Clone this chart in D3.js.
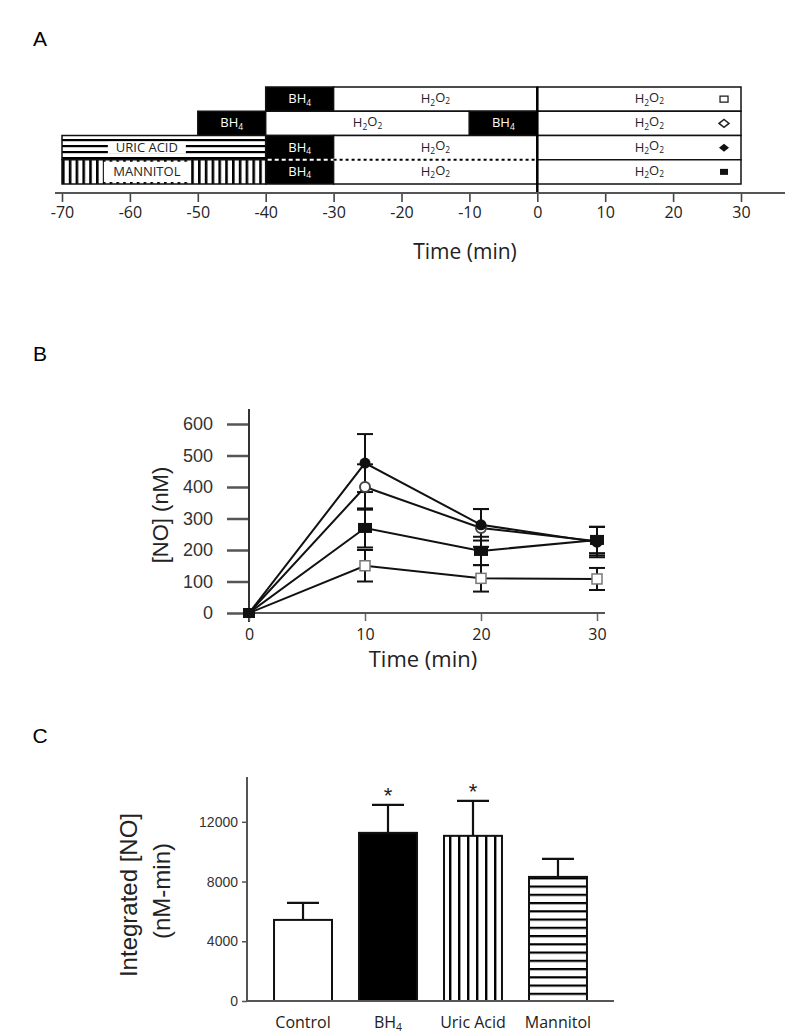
<!DOCTYPE html>
<html><head><meta charset="utf-8">
<script src="https://cdn.jsdelivr.net/npm/d3@7"></script>
<style>body{margin:0;background:#fff}svg{display:block}</style>
</head><body>
<svg id="c" width="800" height="1036"></svg>
<script>
// ---------- DATA ----------
// Panel A protocol: rows of [start, end, label, fill]
const protocolRows = [
  [[-40,-30,"BH4","black"],[-30,0,"H2O2","white"],[0,30,"H2O2","white"]],
  [[-50,-40,"BH4","black"],[-40,-10,"H2O2","white"],[-10,0,"BH4","black"],[0,30,"H2O2","white"]],
  [[-70,-40,"URIC ACID","hstripe"],[-40,-30,"BH4","black"],[-30,0,"H2O2","white"],[0,30,"H2O2","white"]],
  [[-70,-40,"MANNITOL","vstripe"],[-40,-30,"BH4","black"],[-30,0,"H2O2","white"],[0,30,"H2O2","white"]]
];
const protocolMarkers = ["square-open","diamond-open","diamond-filled","rect-filled"];
const timeTicksA = [-70,-60,-50,-40,-30,-20,-10,0,10,20,30];

// Panel B time course
const timesB = [0,10,20,30];
const seriesNames = ["Control","BH4","Uric Acid","Mannitol"];
const controlNO = [0,150,110,108];
const bh4NO = [0,400,270,228];
const uricNO = [0,476,280,225];
const mannitolNO = [0,270,197,232];
const controlErr = [0,50,42,35];
const bh4Err = [0,72,60,45];
const uricErr = [0,92,50,48];
const mannitolErr = [0,62,45,42];
const yTicksB = [0,100,200,300,400,500,600];
const xTicksB = [0,10,20,30];

// Panel C integrated NO
const categoriesC = ["Control","BH4","Uric Acid","Mannitol"];
const integratedNO = [5430,11260,11060,8310];
const integratedErr = [1140,1880,2340,1210];
const significant = [false,true,true,false];
const yTicksC = [0,4000,8000,12000];

// ---------- DRAW ----------
const svg = d3.select("#c");
const FONT = "'Liberation Sans', Arial, sans-serif";
const FONT2 = "'Open Sans', 'Liberation Sans', sans-serif";
const plain = d => String(d);

const defs = svg.append("defs");
const hp = defs.append("pattern").attr("id","hstripeA").attr("patternUnits","userSpaceOnUse").attr("width",8).attr("height",6).attr("y",1);
hp.append("rect").attr("width",8).attr("height",6).attr("fill","white");
hp.append("rect").attr("y",0).attr("width",8).attr("height",2.2).attr("fill","black");
const vp = defs.append("pattern").attr("id","vstripeA").attr("patternUnits","userSpaceOnUse").attr("width",6.8).attr("height",8).attr("x",62);
vp.append("rect").attr("width",6.8).attr("height",8).attr("fill","white");
vp.append("rect").attr("x",0).attr("width",2.6).attr("height",8).attr("fill","black");

function subText(sel, label){
  if(label==="BH4"){ sel.append("tspan").text("BH"); sel.append("tspan").attr("font-size","0.65em").attr("dy","0.3em").text("4"); }
  else if(label==="H2O2"){
    sel.append("tspan").text("H"); sel.append("tspan").attr("font-size","0.65em").attr("dy","0.3em").text("2");
    sel.append("tspan").attr("dy","-0.3em").text("O"); sel.append("tspan").attr("font-size","0.65em").attr("dy","0.3em").text("2");
  } else sel.text(label);
}

// Panel labels
[["A",40,40],["B",40,355],["C",40,737]].forEach(([t,x,y])=>{
  svg.append("text").attr("x",x).attr("y",y).attr("font-family",FONT).attr("font-size",21).text(t).attr("text-anchor","middle").attr("dominant-baseline","middle");
});

// ----- Panel A -----
const xA = d3.scaleLinear().domain([-70,30]).range([62,741]);
const rowA = d3.scaleBand().domain(d3.range(protocolRows.length)).range([87,184]);
const gA = svg.append("g");
protocolRows.forEach((row,i)=>{
  const y0 = rowA(i), h = rowA.bandwidth();
  row.forEach(([s,e,lab,fill])=>{
    const f = fill==="hstripe" ? "url(#hstripeA)" : fill==="vstripe" ? "url(#vstripeA)" : fill;
    gA.append("rect").attr("x",xA(s)).attr("y",y0).attr("width",xA(e)-xA(s)).attr("height",h).attr("fill",f).attr("stroke","#111").attr("stroke-width",1.5);
  });
});
protocolRows.forEach((row,i)=>{
  const y0 = rowA(i), h = rowA.bandwidth();
  row.forEach(([s,e,lab,fill])=>{
    let cx;
    if(fill==="hstripe"||fill==="vstripe"){
      cx = (xA(s)+xA(e))/2 - 17;
      const w = fill==="hstripe"?78:86;
      const bh = fill==="hstripe"?12:h-4;
      gA.append("rect").attr("x",cx-w/2).attr("y",y0+h/2-bh/2).attr("width",w).attr("height",bh).attr("fill","white");
      gA.append("text").attr("x",cx).attr("y",y0+h/2+1).attr("text-anchor","middle").attr("dominant-baseline","middle")
        .attr("font-family",FONT2).attr("font-size",13).attr("fill","#222").text(lab);
      return;
    }
    if(s===0) cx = xA(16.5);
    else cx = (xA(s)+xA(e))/2;
    const t = gA.append("text").attr("x",cx).attr("y",y0+h/2+4).attr("text-anchor","middle")
      .attr("font-family",FONT2).attr("font-size",13).attr("fill",fill==="black"?"white":"#222");
    subText(t,lab);
  });
});
const ySep = rowA(3);
gA.append("line").attr("x1",xA(-40)).attr("x2",xA(-30)).attr("y1",ySep).attr("y2",ySep).attr("stroke","black").attr("stroke-width",3);
gA.append("line").attr("x1",xA(-40)+2).attr("x2",xA(-30)).attr("y1",ySep).attr("y2",ySep).attr("stroke","white").attr("stroke-width",2).attr("stroke-dasharray","4,3");
gA.append("line").attr("x1",xA(-30)).attr("x2",xA(0)).attr("y1",ySep).attr("y2",ySep).attr("stroke","white").attr("stroke-width",3);
gA.append("line").attr("x1",xA(-30)).attr("x2",xA(0)).attr("y1",ySep).attr("y2",ySep).attr("stroke","black").attr("stroke-width",2.2).attr("stroke-dasharray","3,3");
gA.append("line").attr("x1",xA(0)).attr("x2",xA(0)).attr("y1",rowA(0)).attr("y2",193).attr("stroke","black").attr("stroke-width",2.5);
protocolMarkers.forEach((m,i)=>{
  const cy = rowA(i)+rowA.bandwidth()/2, cx = xA(27.5);
  if(m==="square-open") gA.append("rect").attr("x",cx-4).attr("y",cy-3).attr("width",8).attr("height",6).attr("fill","white").attr("stroke","#222").attr("stroke-width",1.3);
  else if(m==="diamond-open") gA.append("path").attr("d",`M${cx-5},${cy}L${cx},${cy-4}L${cx+5},${cy}L${cx},${cy+4}Z`).attr("fill","white").attr("stroke","#222").attr("stroke-width",1.5);
  else if(m==="diamond-filled") gA.append("path").attr("d",`M${cx-5},${cy}L${cx},${cy-4}L${cx+5},${cy}L${cx},${cy+4}Z`).attr("fill","#111");
  else gA.append("rect").attr("x",cx-4).attr("y",cy-3).attr("width",8).attr("height",6).attr("fill","#111");
});
const axA = gA.append("g").attr("transform","translate(0,193)").call(d3.axisBottom(xA).tickValues(timeTicksA).tickSize(9).tickPadding(5).tickFormat(plain));
axA.select(".domain").remove();
axA.selectAll(".tick line").attr("stroke","#444").attr("stroke-width",1.6);
axA.selectAll("text").attr("font-family",FONT2).attr("font-size",16).attr("fill","#222");
gA.append("line").attr("x1",55).attr("x2",785).attr("y1",193).attr("y2",193).attr("stroke","#555").attr("stroke-width",2);
gA.append("text").attr("x",465).attr("y",259).attr("text-anchor","middle").attr("font-family",FONT2).attr("font-size",21).attr("fill","#222").text("Time (min)");

// ----- Panel B -----
const xB = d3.scaleLinear().domain([0,30]).range([249,597]);
const yB = d3.scaleLinear().domain([0,600]).range([613,424]);
const gB = svg.append("g");
const yAxB = gB.append("g").attr("transform","translate(249,0)").call(d3.axisLeft(yB).tickValues(yTicksB).tickSize(22).tickPadding(14).tickFormat(plain));
yAxB.select(".domain").remove();
yAxB.selectAll(".tick line").attr("stroke","#555").attr("stroke-width",2.5);
yAxB.selectAll("text").attr("font-family",FONT).attr("font-size",18).attr("fill","#333");
gB.append("line").attr("x1",249).attr("x2",249).attr("y1",409).attr("y2",622).attr("stroke","#333").attr("stroke-width",2);
const xAxB = gB.append("g").attr("transform","translate(0,613)").call(d3.axisBottom(xB).tickValues(xTicksB).tickSize(8).tickPadding(8).tickFormat(plain));
xAxB.select(".domain").remove();
xAxB.selectAll(".tick line").attr("stroke","#666").attr("stroke-width",1.5);
xAxB.selectAll("text").attr("font-family",FONT2).attr("font-size",16).attr("fill","#222");
gB.append("line").attr("x1",249).attr("x2",605).attr("y1",613).attr("y2",613).attr("stroke","#555").attr("stroke-width",2);
gB.append("text").attr("x",423).attr("y",667).attr("text-anchor","middle").attr("font-family",FONT2).attr("font-size",22).attr("fill","#222").text("Time (min)");
gB.append("text").attr("transform","translate(168,515) rotate(-90)").attr("text-anchor","middle").attr("font-family",FONT).attr("font-size",22).attr("fill","#222").text("[NO] (nM)");

const seriesB = [
  {name:seriesNames[0], v:controlNO, e:controlErr, m:"square-open"},
  {name:seriesNames[1], v:bh4NO, e:bh4Err, m:"diamond-open"},
  {name:seriesNames[2], v:uricNO, e:uricErr, m:"diamond-filled"},
  {name:seriesNames[3], v:mannitolNO, e:mannitolErr, m:"rect-filled"}
];
const line = d3.line().x((d,i)=>xB(timesB[i])).y(d=>yB(d));
seriesB.forEach(s=>{
  s.v.forEach((v,i)=>{
    if(!s.e[i]) return;
    const x = xB(timesB[i]);
    gB.append("line").attr("x1",x).attr("x2",x).attr("y1",yB(v-s.e[i])).attr("y2",yB(v+s.e[i])).attr("stroke","#111").attr("stroke-width",2);
    [v-s.e[i], v+s.e[i]].forEach(c=>gB.append("line").attr("x1",x-8).attr("x2",x+8).attr("y1",yB(c)).attr("y2",yB(c)).attr("stroke","#111").attr("stroke-width",2));
  });
});
seriesB.forEach(s=>{
  gB.append("path").datum(s.v).attr("d",line).attr("fill","none").attr("stroke","#111").attr("stroke-width",2);
});
seriesB.forEach(s=>{
  s.v.forEach((v,i)=>{
    const cx = xB(timesB[i]), cy = yB(v);
    if(i===0){ gB.append("rect").attr("x",cx-6).attr("y",cy-5).attr("width",12).attr("height",10).attr("fill","#111"); return; }
    if(s.m==="square-open") gB.append("rect").attr("x",cx-5).attr("y",cy-5).attr("width",10).attr("height",10).attr("fill","white").attr("stroke","#777").attr("stroke-width",1.5);
    else if(s.m==="diamond-open") gB.append("circle").attr("cx",cx).attr("cy",cy).attr("r",5).attr("fill","white").attr("stroke","#444").attr("stroke-width",2);
    else if(s.m==="diamond-filled") gB.append("circle").attr("cx",cx).attr("cy",cy).attr("r",5.5).attr("fill","#111");
    else gB.append("rect").attr("x",cx-7).attr("y",cy-5).attr("width",14).attr("height",10).attr("fill","#111");
  });
});

// ----- Panel C -----
const xC = d3.scaleBand().domain(categoriesC).range([247,614]).paddingInner(0.318).paddingOuter(0.318);
const yC = d3.scaleLinear().domain([0,15000]).range([1001,777]);
const gC = svg.append("g");
const cp1 = defs.append("pattern").attr("id","vstripeC").attr("patternUnits","userSpaceOnUse").attr("width",9).attr("height",10).attr("x",xC("Uric Acid")+1);
cp1.append("rect").attr("width",9).attr("height",10).attr("fill","white");
cp1.append("rect").attr("x",4).attr("width",2.4).attr("height",10).attr("fill","black");
const cp2 = defs.append("pattern").attr("id","hstripeC").attr("patternUnits","userSpaceOnUse").attr("width",10).attr("height",8.25).attr("y",1001);
cp2.append("rect").attr("width",10).attr("height",8.25).attr("fill","white");
cp2.append("rect").attr("y",0).attr("width",10).attr("height",2.2).attr("fill","black");
const fillsC = ["white","black","url(#vstripeC)","url(#hstripeC)"];
categoriesC.forEach((c,i)=>{
  const x = xC(c), w = xC.bandwidth(), cx = x+w/2;
  gC.append("line").attr("x1",cx).attr("x2",cx).attr("y1",yC(integratedNO[i])).attr("y2",yC(integratedNO[i]+integratedErr[i])).attr("stroke","#111").attr("stroke-width",2.2);
  gC.append("line").attr("x1",cx-16).attr("x2",cx+16).attr("y1",yC(integratedNO[i]+integratedErr[i])).attr("y2",yC(integratedNO[i]+integratedErr[i])).attr("stroke","#111").attr("stroke-width",2.2);
  gC.append("rect").attr("x",x).attr("y",yC(integratedNO[i])).attr("width",w).attr("height",yC(0)-yC(integratedNO[i])).attr("fill",fillsC[i]).attr("stroke","#111").attr("stroke-width",2);
  if(significant[i]) gC.append("text").attr("x",cx).attr("y",yC(integratedNO[i]+integratedErr[i])-2).attr("text-anchor","middle").attr("font-family",FONT).attr("font-size",22).attr("fill","#222").text("*");
});
const yAxC = gC.append("g").attr("transform","translate(247,0)").call(d3.axisLeft(yC).tickValues(yTicksC).tickSize(5).tickPadding(4).tickFormat(plain));
yAxC.select(".domain").remove();
yAxC.selectAll(".tick line").attr("stroke","#555").attr("stroke-width",1.5);
yAxC.selectAll("text").attr("font-family",FONT).attr("font-size",14).attr("fill","#333");
gC.append("line").attr("x1",247).attr("x2",247).attr("y1",777).attr("y2",1001).attr("stroke","#555").attr("stroke-width",2);
gC.append("line").attr("x1",247).attr("x2",614).attr("y1",1001).attr("y2",1001).attr("stroke","#555").attr("stroke-width",2);
const xlabC = gC.append("g");
categoriesC.forEach(c=>{
  const t = xlabC.append("text").attr("x",xC(c)+xC.bandwidth()/2).attr("y",1028).attr("text-anchor","middle").attr("font-family",FONT2).attr("font-size",16).attr("fill","#222");
  subText(t,c);
});
gC.append("text").attr("transform","translate(137,895) rotate(-90)").attr("text-anchor","middle").attr("font-family",FONT).attr("font-size",24).attr("fill","#222").text("Integrated [NO]");
gC.append("text").attr("transform","translate(170,891) rotate(-90)").attr("text-anchor","middle").attr("font-family",FONT).attr("font-size",24).attr("fill","#222").text("(nM-min)");
</script>
</body></html>
